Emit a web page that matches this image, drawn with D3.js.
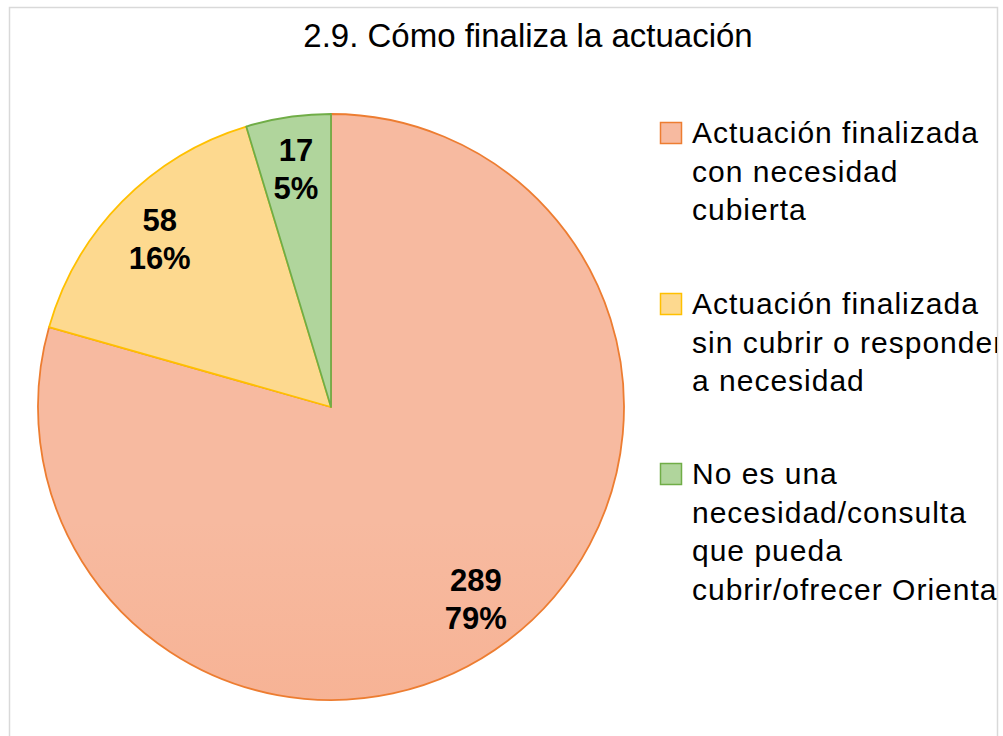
<!DOCTYPE html>
<html>
  <head>
    <meta charset="utf-8">
    <script src="https://cdnjs.cloudflare.com/ajax/libs/d3/7.8.5/d3.min.js"></script>
    <style type="text/css">
      body {
        margin: 0;
        padding: 0;
        background: #fff;
      }
      text {
        font-family: "Liberation Sans", Arial, sans-serif;
      }
    </style>
  </head>
  <body>
    <div id="chart"></div>
    <script type="text/javascript">
    const title = '2.9. Cómo finaliza la actuación';
    const categories = [
      ['Actuación finalizada', 'con necesidad', 'cubierta'],
      ['Actuación finalizada', 'sin cubrir o responder', 'a necesidad'],
      ['No es una', 'necesidad/consulta', 'que pueda', 'cubrir/ofrecer Orienta']
    ];
    const values = [289, 58, 17];
    const percents = ['79%', '16%', '5%'];
    const fillTop = ['#f7baa0', '#fdd98f', '#b0d59c'];
    const fillBottom = ['#f6a37d', '#fdd178', '#a2cc87'];
    const strokes = ['#ed7d31', '#ffc000', '#70ad47'];

    const width = 1003, height = 736;
    const cx = 331, cy = 407, radius = 293;

    const svg = d3.select('#chart')
      .append('svg')
      .attr('width', width)
      .attr('height', height);

    const defs = svg.append('defs');
    defs.append('clipPath')
      .attr('id', 'area')
      .append('rect')
      .attr('x', 9).attr('y', 7)
      .attr('width', 988).attr('height', 740);

    values.forEach((v, i) => {
      const g = defs.append('linearGradient')
        .attr('id', `grad${i}`)
        .attr('gradientUnits', 'userSpaceOnUse')
        .attr('x1', 0).attr('x2', 0)
        .attr('y1', cy - radius).attr('y2', cy + radius);
      g.append('stop').attr('offset', '0%').attr('stop-color', fillTop[i]);
      g.append('stop').attr('offset', '100%').attr('stop-color', fillBottom[i]);
    });

    // chart frame
    svg.append('rect')
      .attr('x', 9.5).attr('y', 7.5)
      .attr('width', 988).attr('height', 740)
      .attr('fill', '#fff')
      .attr('stroke', '#d9d9d9')
      .attr('stroke-width', 1.5);

    const root = svg.append('g').attr('clip-path', 'url(#area)');

    root.append('text')
      .attr('x', 528)
      .attr('y', 47)
      .attr('text-anchor', 'middle')
      .attr('font-size', 33)
      .attr('fill', '#000')
      .text(title);

    const pie = d3.pie().sort(null).value(d => d);
    const arcs = pie(values);
    const arc = d3.arc().innerRadius(0).outerRadius(radius);
    const labelArc = d3.arc().innerRadius(radius * 0.82).outerRadius(radius * 0.82);

    const pieG = root.append('g').attr('transform', `translate(${cx},${cy})`);

    pieG.selectAll('.slice')
      .data(arcs)
      .enter()
      .append('path')
      .attr('class', 'slice')
      .attr('d', arc)
      .attr('fill', (d, i) => `url(#grad${i})`)
      .attr('stroke', (d, i) => strokes[i])
      .attr('stroke-width', 1.8)
      .attr('stroke-linejoin', 'round');

    const labels = pieG.selectAll('.label')
      .data(arcs)
      .enter()
      .append('text')
      .attr('class', 'label')
      .attr('transform', d => `translate(${labelArc.centroid(d)})`)
      .attr('text-anchor', 'middle')
      .attr('font-size', 31)
      .attr('font-weight', 'bold')
      .attr('fill', '#000');
    labels.append('tspan')
      .attr('x', 0)
      .attr('y', -8)
      .text(d => d.value);
    labels.append('tspan')
      .attr('x', 0)
      .attr('y', 30)
      .text((d, i) => percents[i]);

    // legend
    const legendTop = [122, 293, 463];
    const legend = root.selectAll('.legend')
      .data(categories)
      .enter()
      .append('g')
      .attr('class', 'legend')
      .attr('transform', (d, i) => `translate(660,${legendTop[i]})`);

    legend.append('rect')
      .attr('x', 0.5).attr('y', 0.5)
      .attr('width', 21).attr('height', 21)
      .attr('fill', (d, i) => `url(#grad${i})`)
      .attr('stroke', (d, i) => strokes[i])
      .attr('stroke-width', 1.5);

    legend.each(function (lines) {
      const t = d3.select(this).append('text')
        .attr('font-size', 30)
        .attr('letter-spacing', 1)
        .attr('fill', '#000');
      lines.forEach((line, j) => {
        t.append('tspan')
          .attr('x', 32)
          .attr('y', 21 + j * 38.7)
          .text(line);
      });
    });
    </script>
  </body>
</html>
